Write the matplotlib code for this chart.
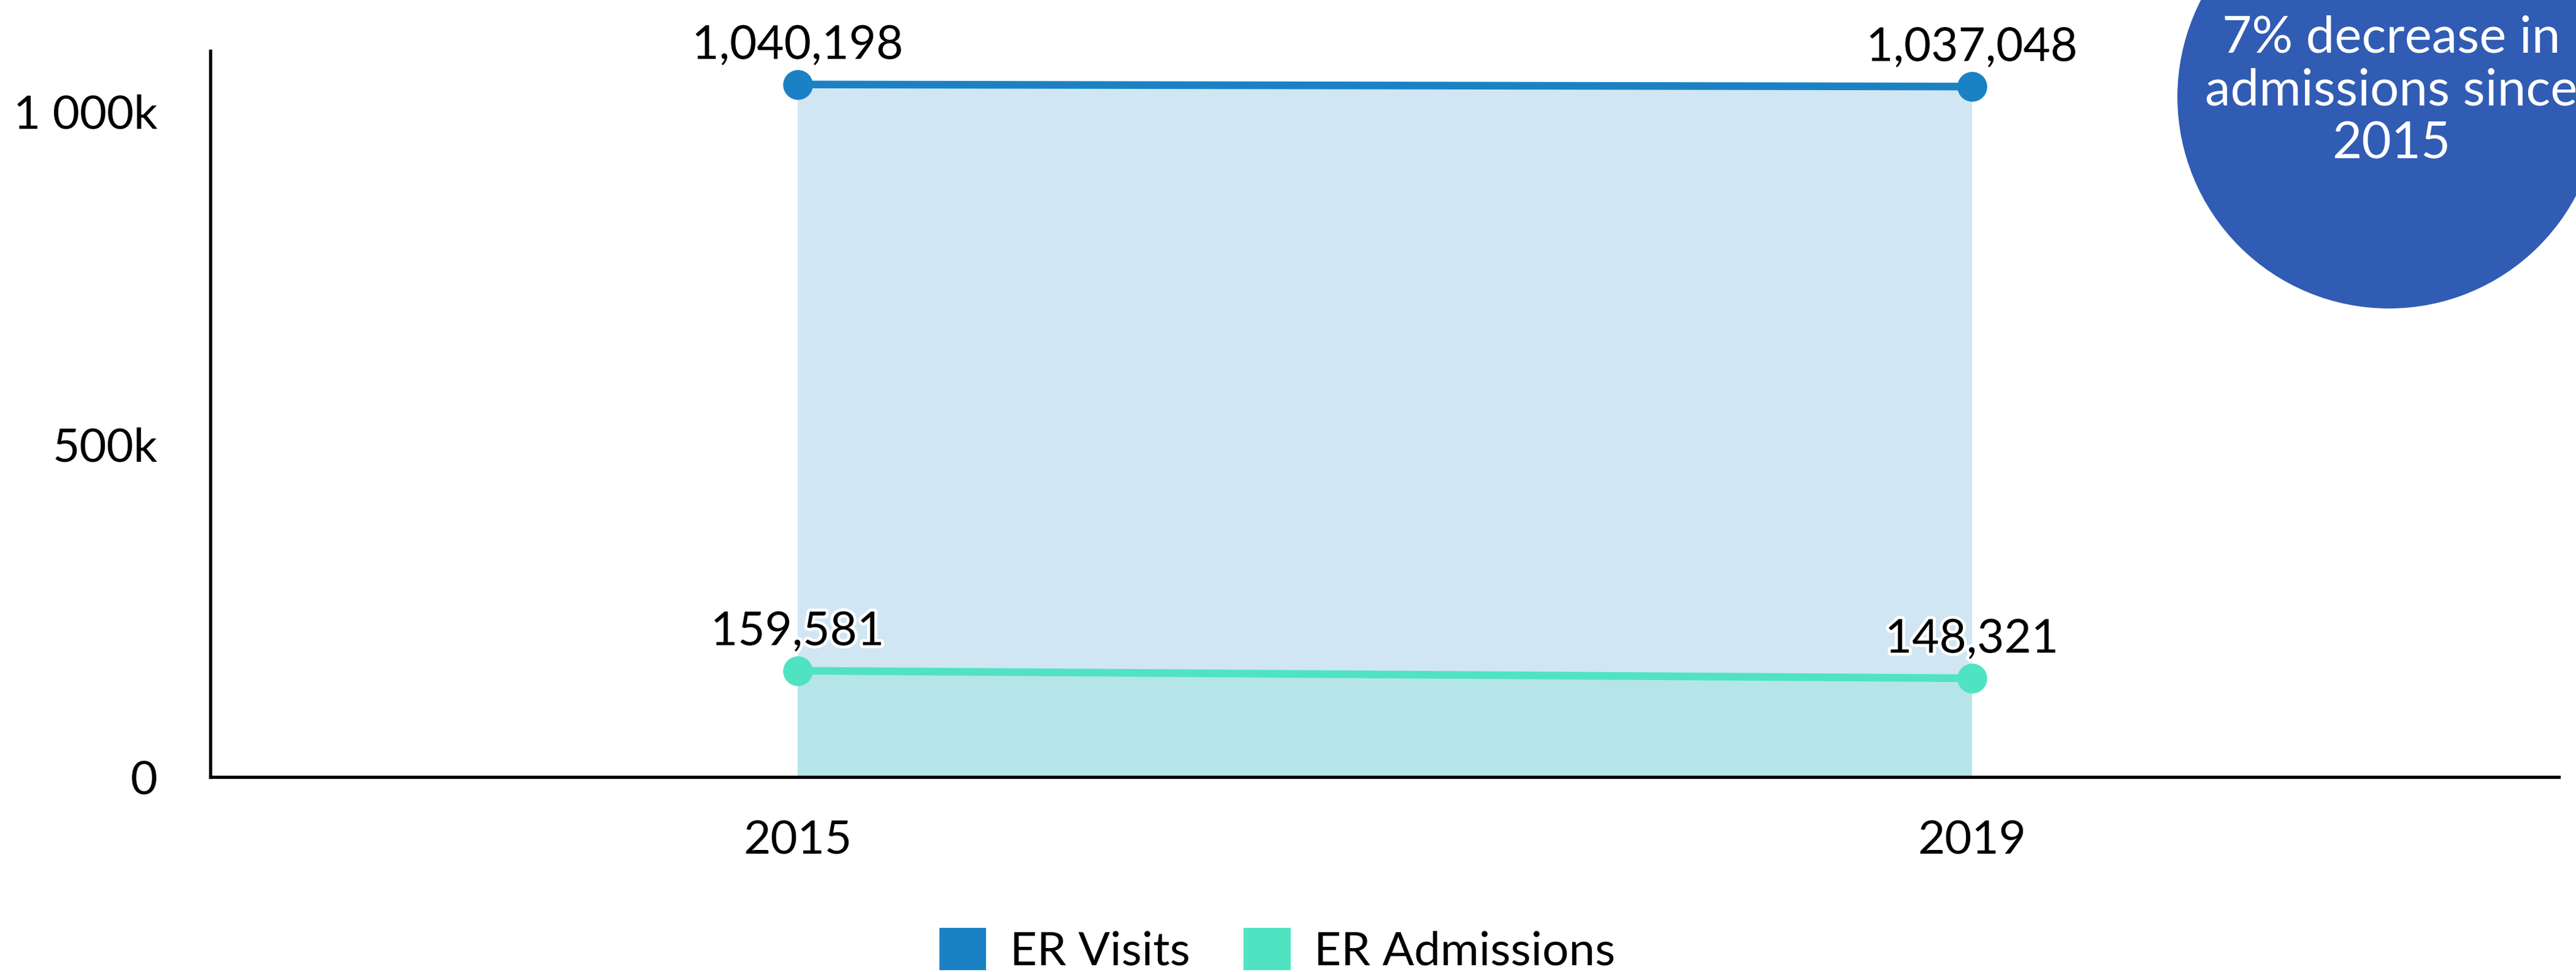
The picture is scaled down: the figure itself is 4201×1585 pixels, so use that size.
import matplotlib
matplotlib.use("Agg")
import matplotlib.pyplot as plt
import matplotlib.patheffects as pe
from matplotlib.patches import Patch, Ellipse
from matplotlib.ticker import FuncFormatter

plt.rcParams['font.family'] = ['Lato', 'DejaVu Sans']

years = ['2015', '2019']
er_visits = [1040198, 1037048]
er_admissions = [159581, 148321]
yticks = [0, 500000, 1000000]

visits_color = '#1a82c4'
visits_fill = '#d0e6f3'
adm_color = '#50e3c2'
adm_fill = '#b5e5e9'
bubble_color = '#315cb4'

W, H = 4201, 1585
fig = plt.figure(figsize=(W / 100, H / 100), dpi=100)
ax = fig.add_axes([343 / W, 1 - 1267 / H, (4173 - 343) / W, (1267 - 83) / H])

x = list(range(len(years)))

# stacked areas under each line
ax.fill_between(x, 0, er_visits, color=visits_fill, lw=0, zorder=1)
ax.fill_between(x, 0, er_admissions, color=adm_fill, lw=0, zorder=2)

ax.plot(x, er_visits, color=visits_color, lw=9, marker='o', ms=34,
        solid_capstyle='butt', zorder=3)
ax.plot(x, er_admissions, color=adm_color, lw=9, marker='o', ms=34,
        solid_capstyle='butt', zorder=3)

halo = [pe.withStroke(linewidth=7, foreground='white')]
for series in (er_visits, er_admissions):
    for xi, v in zip(x, series):
        ax.annotate(f'{v:,}', (xi, v), xytext=(0, 30), textcoords='offset points',
                    ha='center', va='baseline', fontsize=55, color='black',
                    path_effects=halo, zorder=5)

ax.set_xlim(-0.5, 1.5)
ax.set_ylim(0, 1090600)
ax.set_xticks(x)
ax.set_xticklabels(years)
ax.set_yticks(yticks)
ax.yaxis.set_major_formatter(FuncFormatter(
    lambda v, p: '0' if v == 0 else f'{int(v / 1000):,}k'.replace(',', ' ')))
ax.tick_params(axis='both', length=0, labelsize=55)
ax.tick_params(axis='y', pad=62)
ax.tick_params(axis='x', pad=50)

for s in ('top', 'right'):
    ax.spines[s].set_visible(False)
for s in ('left', 'bottom'):
    ax.spines[s].set_linewidth(3.8)
    ax.spines[s].set_color('black')

# callout bubble in the top right corner
r = 345
bubble = Ellipse((3896 / W, 1 - 158 / H), 2 * r / W, 2 * r / H,
                 transform=fig.transFigure, color=bubble_color, lw=0, zorder=10)
fig.add_artist(bubble)
fig.text(3900 / W, 1 - 149 / H, '7% decrease in\nadmissions since\n2015',
         ha='center', va='center', color='white', fontsize=60,
         linespacing=1.17, zorder=11)

handles = [Patch(facecolor=visits_color, label='ER Visits'),
           Patch(facecolor=adm_color, label='ER Admissions')]
fig.legend(handles=handles, loc='center', bbox_to_anchor=(2083 / W, 1 - 1550 / H),
           ncol=2, frameon=False, fontsize=55, handlelength=1.0, handleheight=1.0,
           handletextpad=0.5, columnspacing=1.15)

fig.savefig('out.png', dpi=100)
